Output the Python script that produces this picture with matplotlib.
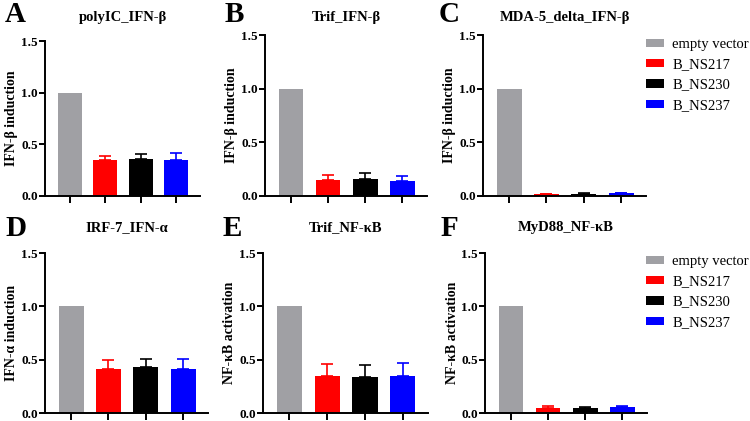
import numpy as np
import matplotlib
matplotlib.use('Agg')
import matplotlib.pyplot as plt
from matplotlib.patches import Patch
from matplotlib import font_manager as fm

# Times-like fonts, loaded by file so nothing falls back
BOLD = fm.findfont(fm.FontProperties(family='Liberation Serif', weight='bold'))
REG = fm.findfont(fm.FontProperties(family='Liberation Serif', weight='normal'))

def fp(size, bold=True):
    return fm.FontProperties(fname=BOLD if bold else REG, size=size)

# data
groups = ['empty vector', 'B_NS217', 'B_NS230', 'B_NS237']
colors = ['#a0a0a4', '#ff0000', '#000000', '#0000ff']

titles = ['polyIC_IFN-β', 'Trif_IFN-β', 'MDA-5_delta_IFN-β',
          'IRF-7_IFN-α', 'Trif_NF-κB', 'MyD88_NF-κB']
letters = ['A', 'B', 'C', 'D', 'E', 'F']
ylabels = ['IFN-β induction', 'IFN-β induction', 'IFN-β induction',
           'IFN-α induction', 'NF-κB activation', 'NF-κB activation']

means = [
    [1.0, 0.345, 0.355, 0.345],
    [1.0, 0.147, 0.155, 0.143],
    [1.0, 0.015, 0.02, 0.025],
    [1.0, 0.41, 0.435, 0.415],
    [1.0, 0.345, 0.34, 0.345],
    [1.0, 0.05, 0.05, 0.055],
]
sems = [
    [0.0, 0.04, 0.055, 0.075],
    [0.0, 0.045, 0.06, 0.045],
    [0.0, 0.005, 0.005, 0.006],
    [0.0, 0.085, 0.07, 0.095],
    [0.0, 0.115, 0.11, 0.12],
    [0.0, 0.012, 0.008, 0.01],
]

# axes boxes in pixels: left, right, top, bottom
W, H = 750, 421
boxes = [
    (45, 200, 41, 196),
    (265, 427, 35, 196),
    (483, 646, 35, 196),
    (45, 208, 253, 413),
    (263, 428, 253, 413),
    (485, 647, 253, 413),
]

fig = plt.figure(figsize=(7.5, 4.21), dpi=100)
x = np.arange(len(groups))

for i in range(6):
    l, r, t, b = boxes[i]
    ax = fig.add_axes([l / W, 1 - b / H, (r - l) / W, (b - t) / H])
    for j in range(len(groups)):
        ax.bar(x[j], means[i][j], width=0.67, color=colors[j], zorder=2)
        if sems[i][j] > 0:
            ax.errorbar(x[j], means[i][j], yerr=[[0], [sems[i][j]]],
                        ecolor=colors[j], elinewidth=1.2, capsize=4.5,
                        capthick=1.2, fmt='none', zorder=1)
    ax.set_xlim(-0.7, 3.67)
    ax.set_ylim(0, 1.5)
    ax.set_yticks([0, 0.5, 1.0, 1.5])
    ax.set_yticklabels(['0.0', '0.5', '1.0', '1.5'], fontproperties=fp(9.5))
    ax.set_xticks(x)
    ax.set_xticklabels([])
    for s in ['top', 'right']:
        ax.spines[s].set_visible(False)
    for s in ['left', 'bottom']:
        ax.spines[s].set_linewidth(1.4)
    ax.tick_params(axis='both', width=1.4, length=4, pad=1)
    ax.tick_params(axis='x', length=5)

    cx = (l + r) / 2
    ty = 18 if i < 3 else 228
    fig.text(cx / W, 1 - ty / H, titles[i], ha='center', va='center',
             fontproperties=fp(10.5))
    fig.text((l - 33) / W, 1 - ((t + b) / 2) / H, ylabels[i], rotation=90,
             ha='center', va='center', fontproperties=fp(10))
    lx = [15, 234, 449, 16, 232, 449][i]
    ly = 15 if i < 3 else 228
    fig.text(lx / W, 1 - ly / H, letters[i], ha='center', va='center',
             fontproperties=fp(21))

handles = [Patch(facecolor=c, edgecolor='none') for c in colors]
for ly in [38, 255]:
    fig.legend(handles, groups, loc='upper left',
               bbox_to_anchor=(646 / W, 1 - ly / H), frameon=False,
               prop=fp(10.5, bold=False),
               handlelength=1.2, handleheight=0.5,
               labelspacing=0.5, handletextpad=0.6, borderpad=0,
               borderaxespad=0)

plt.savefig('out.png', dpi=100)
